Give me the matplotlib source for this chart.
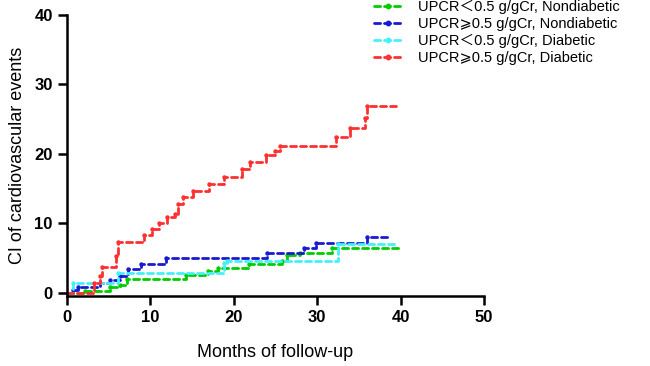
import numpy as np
import matplotlib.pyplot as plt
from matplotlib.lines import Line2D

plt.rcParams['font.family'] = ['Liberation Sans', 'Noto Sans CJK SC', 'DejaVu Sans']

# cumulative incidence, step changes (month, CI)
t_green = [0, 2.2, 5.2, 6.4, 7.2, 14.3, 16.9, 18.1, 21.9, 25.8, 26.4, 28.0, 31.8, 39.8]
v_green = [0, 0.3, 0.8, 1.15, 2.0, 2.6, 3.1, 3.6, 4.15, 4.65, 5.5, 5.8, 6.45, 6.45]

t_blue = [0, 0.75, 1.3, 4.0, 5.2, 6.4, 7.3, 8.9, 11.9, 24.0, 28.4, 29.9, 36.0, 38.6]
v_blue = [0, 0.4, 0.9, 1.5, 1.9, 2.5, 3.4, 4.1, 5.1, 5.8, 6.4, 7.15, 8.0, 8.0]

t_cyan = [0, 0.75, 6.1, 18.9, 19.2, 32.5, 39.7]
v_cyan = [0, 1.5, 2.85, 4.3, 4.65, 7.05, 7.05]

t_red = [0, 3.3, 4.0, 4.2, 5.9, 6.1, 9.3, 10.2, 11.1, 12.0, 13.0, 13.3, 13.9, 15.1,
         17.1, 18.9, 21.0, 22.0, 23.9, 25.0, 25.5, 32.3, 34.0, 35.8, 36.0, 39.5]
v_red = [0, 1.4, 2.4, 3.7, 5.3, 7.3, 8.3, 9.2, 10.0, 10.9, 11.4, 12.8, 13.8, 14.7,
         15.7, 16.7, 17.8, 18.9, 19.8, 20.4, 21.1, 22.5, 23.8, 25.2, 26.9, 26.9]

labels = ['UPCR\uff1c0.5 g/gCr, Nondiabetic', 'UPCR\u2a7e0.5 g/gCr, Nondiabetic',
          'UPCR\uff1c0.5 g/gCr, Diabetic', 'UPCR\u2a7e0.5 g/gCr, Diabetic']
colors = ['#00cc00', '#1a1ad0', '#44f0ff', '#ff3030']
series = [(t_green, v_green), (t_blue, v_blue), (t_cyan, v_cyan), (t_red, v_red)]

fig = plt.figure(figsize=(6.5, 3.66), dpi=100)
ax = fig.add_axes([0.1026, 0.191, 0.642, 0.768])

dash = (0, (2.2, 1.4))
for (t, v), c in zip(series, colors):
    ax.step(t, v, where='post', color=c, lw=2.0, linestyle=dash, dash_capstyle='round')
    ax.plot(t[1:-1], v[1:-1], 'o', color=c, ms=3.2, mew=0)

ax.set_xlim(0, 50)
ax.set_ylim(-0.45, 40)
ax.set_xticks([0, 10, 20, 30, 40, 50])
ax.set_yticks([0, 10, 20, 30, 40])
for s in ['top', 'right']:
    ax.spines[s].set_visible(False)
for s in ['left', 'bottom']:
    ax.spines[s].set_linewidth(1.8)
ax.tick_params(width=1.8, length=6.5, labelsize=12)
for lab in ax.get_xticklabels() + ax.get_yticklabels():
    lab.set_fontweight('bold')
ax.set_xlabel('Months of follow-up', fontsize=13, labelpad=14)
ax.set_ylabel('CI of cardiovascular events', fontsize=13, labelpad=6)

handles = [Line2D([], [], color=c, lw=2.0, linestyle=dash, marker='o', ms=3.2,
                  markevery=[0], dash_capstyle='round') for c in colors]
fig.legend(handles, labels, loc='upper left', bbox_to_anchor=(0.555, 1.035),
           frameon=False, fontsize=10.5, handlelength=2.0, handletextpad=1.0,
           labelspacing=0.2)

plt.savefig('out.png', dpi=100)
